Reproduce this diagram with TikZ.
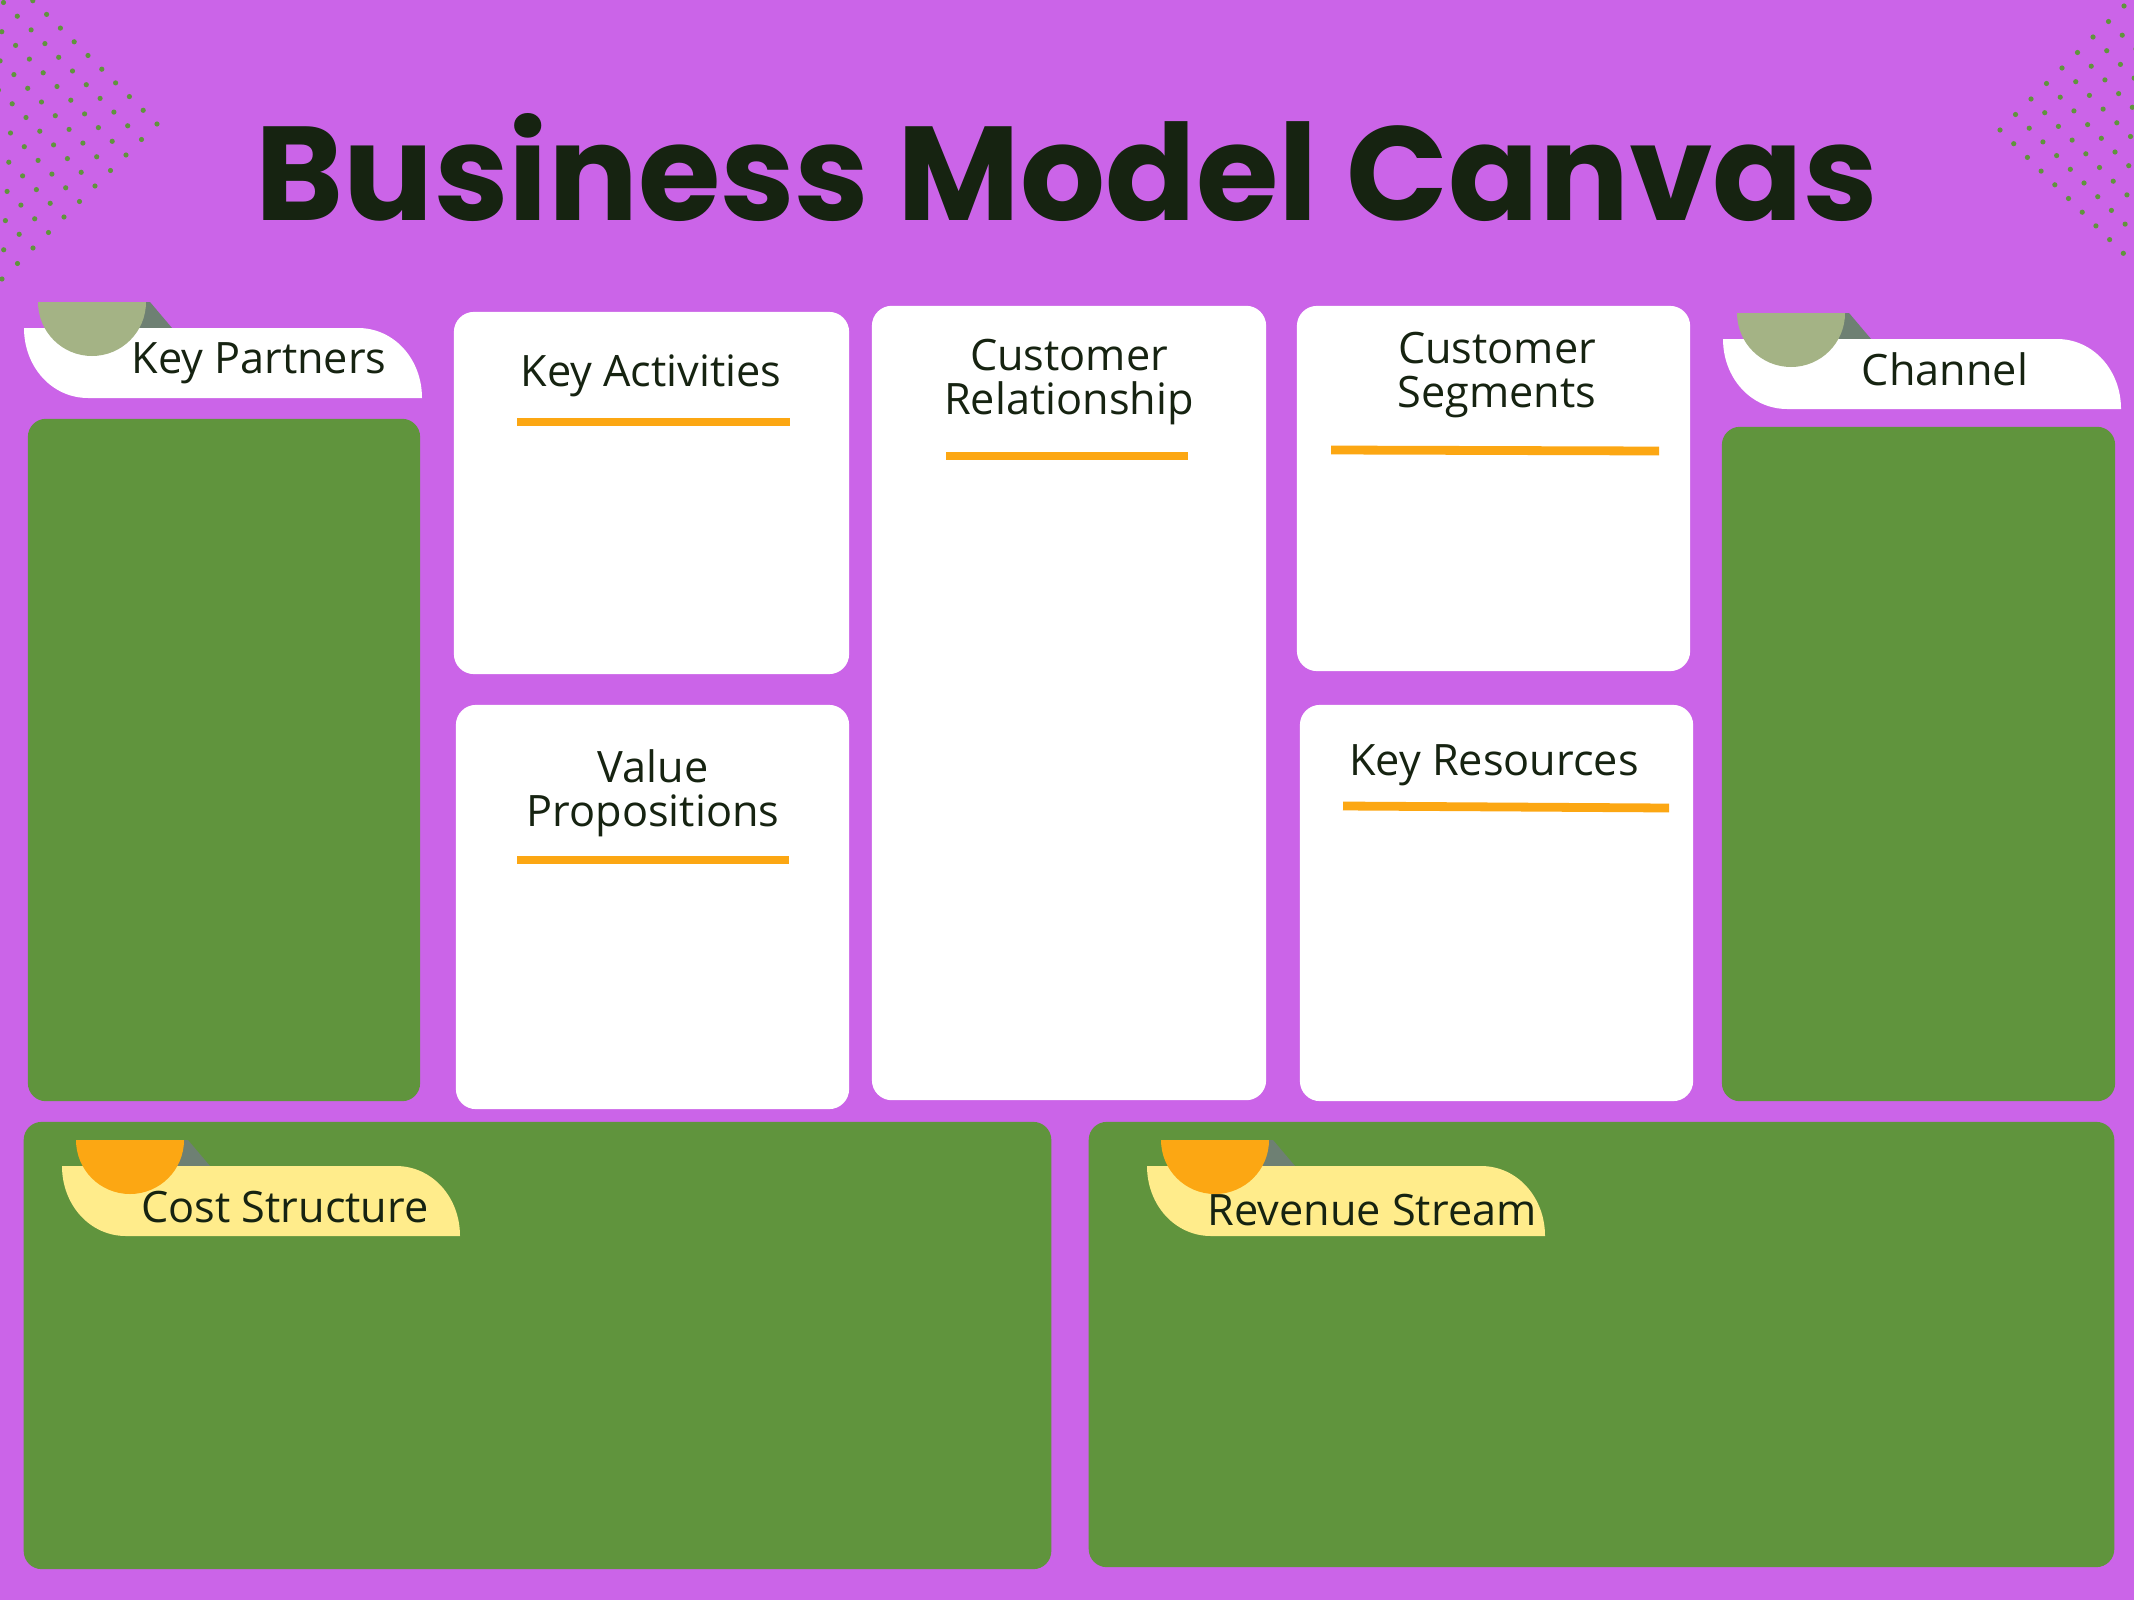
\documentclass[tikz,border=0pt]{standalone}
\usepackage{fontspec}
\setmainfont{Open Sans}
\newfontfamily\titlefont{Poppins}
\usepackage{tikz}

\definecolor{canvaspurple}{RGB}{203,100,232}
\definecolor{boxgreen}{RGB}{96,148,61}
\definecolor{sagegreen}{RGB}{164,179,133}
\definecolor{tabshadow}{RGB}{110,128,115}
\definecolor{lineorange}{RGB}{252,167,19}
\definecolor{tabyellow}{RGB}{255,236,139}
\definecolor{inkdark}{RGB}{22,35,17}

\tikzset{
  card/.style={fill=white, rounded corners=0.2cm, inner sep=0pt},
  greenbox/.style={fill=boxgreen, rounded corners=0.18cm, inner sep=0pt},
  head/.style={font=\fontsize{12.3}{12.4}\selectfont, text=inkdark, align=center, anchor=base, inner sep=0pt},
  headrule/.style={draw=lineorange, line width=2.5pt},
  bigtitle/.style={font=\titlefont\bfseries\fontsize{38}{38}\selectfont, text=inkdark, anchor=base, inner sep=0pt}
}

% tab behind a heading: left x, top y, tab colour, half-disc colour
\newcommand{\headtab}[4]{
  \fill[tabshadow] (#1+68,#2-26) -- (#1+126,#2-26) -- (#1+148,#2) -- (#1+68,#2) -- cycle;
  \fill[#3] (#1,#2) .. controls (#1,#2+39) and (#1+28,#2+70) .. (#1+64,#2+70)
    -- (#1+398,#2+70) .. controls (#1+398,#2+31) and (#1+370,#2) .. (#1+334,#2) -- cycle;
  \fill[#4] (#1+14,#2-26) arc[start angle=180, end angle=0, radius=54] -- cycle;
}

\begin{document}
\begin{tikzpicture}[x=0.01cm, y=-0.01cm]

\useasboundingbox (0,0) rectangle (2134,1600);
\fill[canvaspurple] (0,0) rectangle (2134,1600);

% dotted corners
\begin{scope}
\clip (0,0) rectangle (2134,1600);
\foreach \i in {0,...,11}
  \foreach \j in {0,...,10} {
    \fill[boxgreen] ({157-13.8*\i-15.5*\j},{124-13.7*\i+15.5*\j}) circle[radius=2.6];
    \fill[boxgreen] ({2000+13.7*\i+15.5*\j},{130+13.7*\i-15.5*\j}) circle[radius=2.6];
  }
\end{scope}

\node[bigtitle] (title) at (1067,221) {Business Model Canvas};

% side and bottom blocks
\node[greenbox, minimum width=3.92cm, minimum height=6.82cm] (partners) at (224,760) {};
\node[greenbox, minimum width=3.93cm, minimum height=6.74cm] (channel) at (1918.5,764) {};
\node[greenbox, minimum width=10.27cm, minimum height=4.47cm] (cost) at (537.5,1345.5) {};
\node[greenbox, minimum width=10.25cm, minimum height=4.45cm] (revenue) at (1601.5,1344.5) {};

% white cards
\node[card, minimum width=3.95cm, minimum height=3.62cm] (activities) at (651.5,493) {};
\node[card, minimum width=3.93cm, minimum height=4.04cm] (propositions) at (652.5,907) {};
\node[card, minimum width=3.94cm, minimum height=7.94cm] (relationship) at (1069,703) {};
\node[card, minimum width=3.93cm, minimum height=3.65cm] (segments) at (1493.5,488.5) {};
\node[card, minimum width=3.93cm, minimum height=3.96cm] (resources) at (1496.5,903) {};

\node[head] (activitiestext) at (651,386) {Key Activities};
\node[head] (propositionstext) at (653,826) {Value\\Propositions};
\node[head] (relationshiptext) at (1069,414) {Customer\\Relationship};
\node[head] (segmentstext) at (1497,407) {Customer\\Segments};
\node[head] (resourcestext) at (1494,775) {Key Resources};

\draw[headrule] (517,422) -- (790,422);
\draw[headrule] (517,860) -- (789,860);
\draw[headrule] (946,456) -- (1188,456);
\draw[headrule] (1331,450) -- (1659,451);
\draw[headrule] (1343,806) -- (1669,808);

% heading tabs
\headtab{24}{328}{white}{sagegreen}
\headtab{1723}{339}{white}{sagegreen}
\headtab{62}{1166}{tabyellow}{lineorange}
\headtab{1147}{1166}{tabyellow}{lineorange}

\node[head] (partnerstext) at (259,373) {Key Partners};
\node[head] (channeltext) at (1945,385) {Channel};
\node[head] (costtext) at (285,1222) {Cost Structure};
\node[head] (revenuetext) at (1372,1225) {Revenue Stream};

\end{tikzpicture}
\end{document}
